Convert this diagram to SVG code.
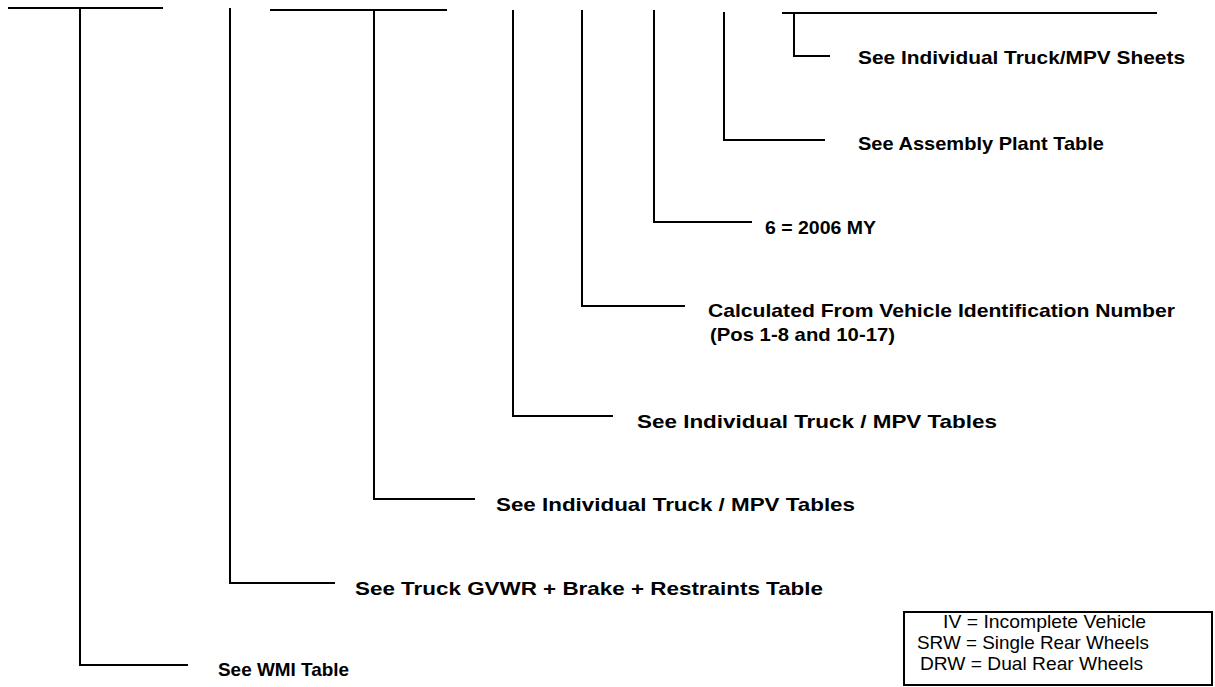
<svg xmlns="http://www.w3.org/2000/svg" width="1215" height="687" viewBox="0 0 1215 687">
<style>
.ln{fill:none;stroke:#000;stroke-width:2}
.lb{font-family:"Liberation Sans",Arial,sans-serif;font-weight:bold;font-size:18.5px;fill:#000}
.lg{font-family:"Liberation Sans",Arial,sans-serif;font-size:19px;fill:#000}
</style>
<rect width="1215" height="687" fill="#fff"/>
<g id="connectors">
<path class="ln" d="M8 8H163M80 8V665H188"/>
<path class="ln" d="M230 8V583H335"/>
<path class="ln" d="M270 10H447M374 10V499H475"/>
<path class="ln" d="M513 10V416H613"/>
<path class="ln" d="M582 10V306H685"/>
<path class="ln" d="M654 10V222H752"/>
<path class="ln" d="M724 12V140H825"/>
<path class="ln" d="M782 13H1157M794 13V56H830"/>
</g>
<g id="n-wmi"><text class="lb" x="218" y="676" textLength="131" lengthAdjust="spacingAndGlyphs">See WMI Table</text></g>
<g id="n-gvwr"><text class="lb" x="355" y="595" textLength="468" lengthAdjust="spacingAndGlyphs">See Truck GVWR + Brake + Restraints Table</text></g>
<g id="n-c"><text class="lb" x="496" y="511" textLength="359" lengthAdjust="spacingAndGlyphs">See Individual Truck / MPV Tables</text></g>
<g id="n-d"><text class="lb" x="637" y="428" textLength="360" lengthAdjust="spacingAndGlyphs">See Individual Truck / MPV Tables</text></g>
<g id="n-check"><text class="lb" x="708" y="317" textLength="467" lengthAdjust="spacingAndGlyphs">Calculated From Vehicle Identification Number</text>
<text class="lb" x="710" y="341" textLength="185" lengthAdjust="spacingAndGlyphs">(Pos 1-8 and 10-17)</text></g>
<g id="n-year"><text class="lb" x="765" y="234" textLength="111" lengthAdjust="spacingAndGlyphs">6 = 2006 MY</text></g>
<g id="n-plant"><text class="lb" x="858" y="150" textLength="246" lengthAdjust="spacingAndGlyphs">See Assembly Plant Table</text></g>
<g id="n-sheets"><text class="lb" x="858" y="64" textLength="327" lengthAdjust="spacingAndGlyphs">See Individual Truck/MPV Sheets</text></g>
<g id="legend">
<rect x="904" y="612" width="308" height="73" fill="none" stroke="#000" stroke-width="2"/>
<text class="lg" x="943" y="628" textLength="203" lengthAdjust="spacingAndGlyphs">IV = Incomplete Vehicle</text>
<text class="lg" x="917" y="649" textLength="232" lengthAdjust="spacingAndGlyphs">SRW = Single Rear Wheels</text>
<text class="lg" x="920" y="670" textLength="223" lengthAdjust="spacingAndGlyphs">DRW = Dual Rear Wheels</text>
</g>
</svg>
